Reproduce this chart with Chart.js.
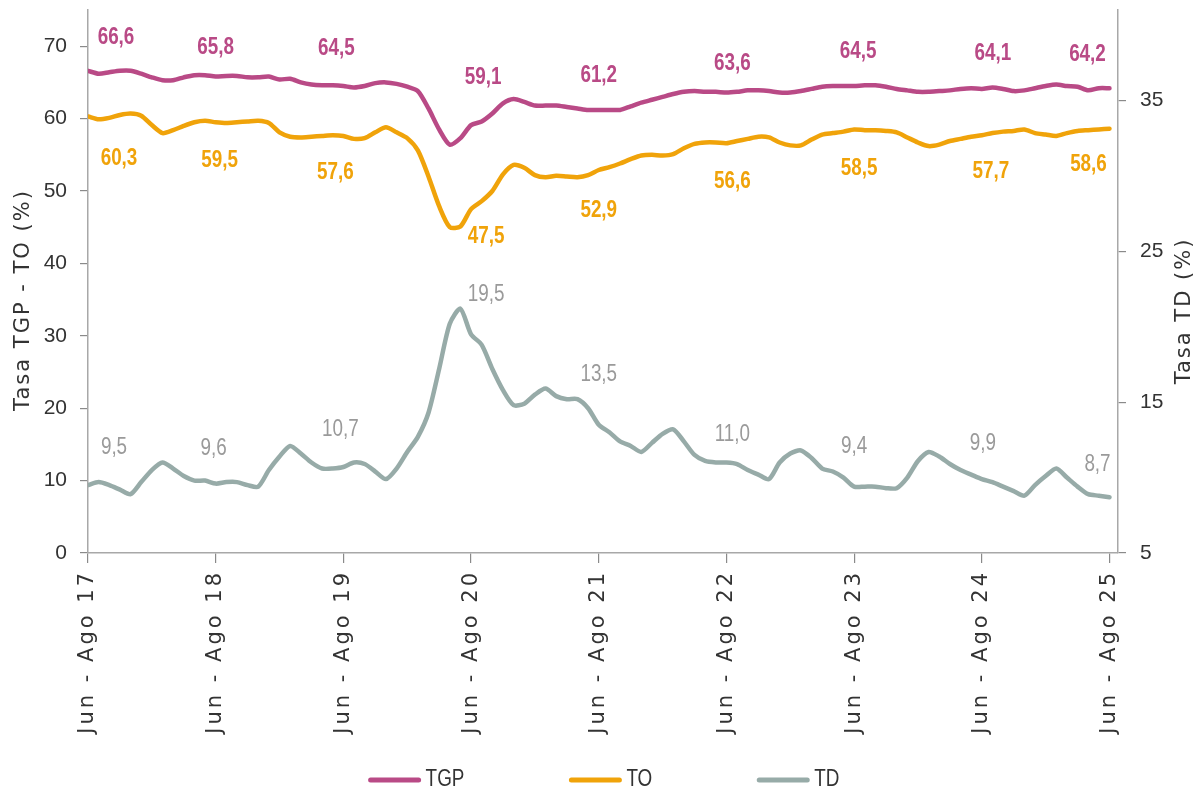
<!DOCTYPE html>
<html>
<head>
<meta charset="utf-8">
<script src="https://cdn.jsdelivr.net/npm/chart.js@4.4.1/dist/chart.umd.min.js"></script>
<style>
  html, body { margin: 0; background: #fff; }
  canvas { display: block; }
</style>
</head>
<body>
<canvas id="chart" width="1200" height="792"></canvas>
<script>
// Trimestres móviles, de Jun - Ago 17 a Jun - Ago 25 (97 meses)
const tickLabels = ['Jun - Ago 17', 'Jun - Ago 18', 'Jun - Ago 19', 'Jun - Ago 20', 'Jun - Ago 21',
                    'Jun - Ago 22', 'Jun - Ago 23', 'Jun - Ago 24', 'Jun - Ago 25'];
const leftTicks = [0, 10, 20, 30, 40, 50, 60, 70];
const rightTicks = [5, 15, 25, 35];
const labelIndex = [0, 12, 24, 36, 48, 60, 72, 84, 96];

const tgp = [
  66.6, 66.2, 66.4, 66.6, 66.6, 66.2, 65.7, 65.3, 65.3, 65.7, 66.0, 66.0,
  65.8, 65.9, 65.9, 65.7, 65.7, 65.8, 65.4, 65.5, 65.0, 64.7, 64.6, 64.6,
  64.5, 64.3, 64.5, 64.9, 65.0, 64.8, 64.4, 63.8, 61.4, 58.5, 56.4, 57.3,
  59.1, 59.6, 60.7, 62.1, 62.7, 62.3, 61.8, 61.8, 61.8, 61.6, 61.4, 61.2,
  61.2, 61.2, 61.2, 61.7, 62.2, 62.6, 63.0, 63.4, 63.7, 63.8, 63.7, 63.7,
  63.6, 63.7, 63.9, 63.9, 63.8, 63.6, 63.6, 63.8, 64.1, 64.4, 64.5, 64.5,
  64.5, 64.6, 64.6, 64.4, 64.1, 63.9, 63.7, 63.7, 63.8, 63.9, 64.1, 64.2,
  64.1, 64.3, 64.1, 63.8, 63.9, 64.2, 64.5, 64.7, 64.5, 64.4, 63.9, 64.2,
  64.2
];
const to = [
  60.3, 59.9, 60.1, 60.5, 60.7, 60.4, 59.1, 58.0, 58.4, 59.0, 59.5, 59.7,
  59.5, 59.4, 59.5, 59.6, 59.7, 59.4, 58.1, 57.5, 57.4, 57.5, 57.6, 57.7,
  57.6, 57.2, 57.3, 58.1, 58.8, 58.1, 57.3, 55.6, 52.0, 47.9, 45.0, 45.1,
  47.5, 48.6, 50.0, 52.3, 53.6, 53.2, 52.2, 51.9, 52.1, 52.0, 51.9, 52.2,
  52.9, 53.3, 53.8, 54.4, 54.9, 55.0, 54.9, 55.1, 55.9, 56.5, 56.7, 56.7,
  56.6, 56.9, 57.2, 57.5, 57.4, 56.7, 56.3, 56.3, 57.1, 57.8, 58.0, 58.2,
  58.5, 58.4, 58.4, 58.3, 58.1, 57.4, 56.7, 56.2, 56.4, 56.9, 57.2, 57.5,
  57.7, 58.0, 58.2, 58.3, 58.5, 58.0, 57.8, 57.6, 58.0, 58.3, 58.4, 58.5,
  58.6
];
const td = [
  9.5, 9.7, 9.5, 9.2, 8.9, 9.7, 10.5, 11.0, 10.6, 10.1, 9.8, 9.8,
  9.6, 9.7, 9.7, 9.5, 9.4, 10.5, 11.4, 12.1, 11.6, 11.0, 10.6, 10.6,
  10.7, 11.0, 10.9, 10.4, 9.9, 10.6, 11.7, 12.7, 14.3, 17.2, 20.2, 21.2,
  19.5, 18.8, 17.2, 15.8, 14.8, 14.9, 15.5, 15.9, 15.4, 15.2, 15.2, 14.6,
  13.5, 13.0, 12.4, 12.1, 11.7, 12.3, 12.9, 13.2, 12.4, 11.5, 11.1, 11.0,
  11.0, 10.9, 10.5, 10.2, 9.9, 11.0, 11.6, 11.8, 11.3, 10.6, 10.4, 10.0,
  9.4, 9.4, 9.4, 9.3, 9.3, 10.0, 11.1, 11.7, 11.4, 10.9, 10.5, 10.2,
  9.9, 9.7, 9.4, 9.1, 8.8, 9.5, 10.1, 10.6, 10.0, 9.4, 8.9, 8.8,
  8.7
];

const COLORS = { tgp: '#b94a86', to: '#f0a30a', td: '#97aba8', tdText: '#9a9a9a', text: '#333333', axis: '#a8a8a8' };

// where each value label sits relative to its point (px)
const labelOffsets = [
  [[28, -33], [0, -29], [-7, -37], [12, -47], [0, -34], [6, -29], [4, -34], [11, -35], [-22, -34]],
  [[31, 42], [4, 38], [-8, 37], [15, 28], [0, 41], [6, 38], [5, 39], [9, 36], [-21, 36]],
  [[26, -37], [-2, -35], [-3, -37], [15, -40], [0, -50], [6, -28], [0, -40], [1, -35], [-12, -33]]
];
const SQUEEZE = 0.82; // the source uses a condensed face

const toPoints = arr => arr.map((v, i) => ({ x: i, y: v }));
const fmt = v => v.toFixed(1).replace('.', ',');

function narrowText(ctx, text, x, y) {
  ctx.save();
  ctx.translate(x, y);
  ctx.scale(SQUEEZE, 1);
  ctx.fillText(text, 0, 0);
  ctx.restore();
}

// x tick labels in the reference are loosely tracked
const spacedTicks = {
  id: 'spacedTicks',
  afterLayout(chart) {
    const sc = chart.scales.x;
    if (sc._spaced) return;
    const orig = sc.drawLabels;
    sc.drawLabels = function (area) {
      this.ctx.save();
      this.ctx.letterSpacing = '3px';
      orig.call(this, area);
      this.ctx.restore();
    };
    sc._spaced = true;
  }
};

const valueLabels = {
  id: 'valueLabels',
  afterDatasetsDraw(chart) {
    const ctx = chart.ctx;
    ctx.save();
    ctx.textAlign = 'center';
    ctx.textBaseline = 'middle';
    chart.data.datasets.forEach((ds, d) => {
      const meta = chart.getDatasetMeta(d);
      ctx.fillStyle = ds.labelColor;
      ctx.font = ds.labelFont;
      labelIndex.forEach((idx, k) => {
        const pt = meta.data[idx];
        const off = labelOffsets[d][k];
        narrowText(ctx, fmt(ds.data[idx].y), pt.x + off[0], pt.y + off[1]);
      });
    });
    ctx.restore();
  }
};

const bottomLegend = {
  id: 'bottomLegend',
  afterDraw(chart) {
    const ctx = chart.ctx;
    const boxW = 52, gapText = 5, gapItem = 105, cy = 780, cx = 604;
    ctx.save();
    ctx.font = '23px "Liberation Sans", sans-serif';
    const items = chart.data.datasets.map(ds => ({ ds, w: boxW + gapText + ctx.measureText(ds.label).width * SQUEEZE }));
    const total = items.reduce((a, it) => a + it.w, 0) + gapItem * (items.length - 1);
    let x = cx - total / 2;
    items.forEach(it => {
      ctx.strokeStyle = it.ds.borderColor;
      ctx.lineWidth = 5;
      ctx.lineCap = 'round';
      ctx.beginPath();
      ctx.moveTo(x + 2, cy);
      ctx.lineTo(x + boxW - 2, cy);
      ctx.stroke();
      ctx.fillStyle = COLORS.text;
      ctx.textBaseline = 'middle';
      ctx.textAlign = 'left';
      narrowText(ctx, it.ds.label, x + boxW + gapText, cy);
      x += it.w + gapItem;
    });
    ctx.restore();
  }
};

const axisTitles = {
  id: 'axisTitles',
  afterDraw(chart) {
    const ctx = chart.ctx;
    ctx.save();
    ctx.font = '21px "DejaVu Sans", sans-serif';
    ctx.fillStyle = COLORS.text;
    ctx.textAlign = 'center';
    ctx.textBaseline = 'middle';
    ctx.letterSpacing = '2px';
    [['Tasa TGP - TO (%)', 24, 300], ['Tasa TD (%)', 1185, 311]].forEach(([t, x, y]) => {
      ctx.save();
      ctx.translate(x, y);
      ctx.rotate(-Math.PI / 2);
      ctx.fillText(t, 0, 0);
      ctx.restore();
    });
    ctx.restore();
  }
};

const yTickFont = { family: '"Liberation Sans", sans-serif', size: 21 };
const noPad = s => { s.paddingTop = 0; s.paddingBottom = 0; s.paddingLeft = 0; s.paddingRight = 0; };

new Chart(document.getElementById('chart'), {
  type: 'line',
  data: {
    datasets: [
      { label: 'TGP', data: toPoints(tgp), yAxisID: 'y', borderColor: COLORS.tgp,
        labelColor: COLORS.tgp, labelFont: 'bold 23px "Liberation Sans", sans-serif' },
      { label: 'TO', data: toPoints(to), yAxisID: 'y', borderColor: COLORS.to,
        labelColor: COLORS.to, labelFont: 'bold 23px "Liberation Sans", sans-serif' },
      { label: 'TD', data: toPoints(td), yAxisID: 'y1', borderColor: COLORS.td,
        labelColor: COLORS.tdText, labelFont: '23px "Liberation Sans", sans-serif' }
    ]
  },
  options: {
    responsive: false,
    animation: false,
    layout: { padding: { top: 10, bottom: 0, left: 0, right: 0 } },
    elements: {
      line: { borderWidth: 4.5, tension: 0.25, borderCapStyle: 'round', borderJoinStyle: 'round' },
      point: { radius: 0 }
    },
    plugins: { legend: { display: false }, tooltip: { enabled: false } },
    scales: {
      x: {
        type: 'linear', min: 0, max: 96.8,
        afterBuildTicks: s => { s.ticks = tickLabels.map((_, k) => ({ value: k * 12 })); },
        afterFit: s => { s.height = 239; noPad(s); },
        grid: { drawOnChartArea: false, tickLength: 10, color: '#8a8a8a', lineWidth: 1.2 },
        border: { color: COLORS.axis, width: 1.5 },
        ticks: {
          autoSkip: false, minRotation: 90, maxRotation: 90, padding: 7, color: COLORS.text,
          font: { family: '"DejaVu Sans", sans-serif', size: 21 },
          callback: v => tickLabels[Math.round(v / 12)]
        }
      },
      y: {
        position: 'left', min: 0, max: 75,
        afterBuildTicks: s => { s.ticks = leftTicks.map(v => ({ value: v })); },
        afterFit: s => { s.width = 88; noPad(s); },
        grid: { drawOnChartArea: false, tickLength: 8, color: '#8a8a8a', lineWidth: 1.2 },
        border: { color: COLORS.axis, width: 1.5 },
        ticks: { padding: 13, color: COLORS.text, font: yTickFont }
      },
      y1: {
        position: 'right', min: 5, max: 41,
        afterBuildTicks: s => { s.ticks = rightTicks.map(v => ({ value: v })); },
        afterFit: s => { s.width = 82; noPad(s); },
        grid: { drawOnChartArea: false, tickLength: 8, color: '#8a8a8a', lineWidth: 1.2 },
        border: { color: COLORS.axis, width: 1.5 },
        ticks: { padding: 14, color: COLORS.text, font: yTickFont }
      }
    }
  },
  plugins: [spacedTicks, valueLabels, bottomLegend, axisTitles]
});
</script>
</body>
</html>
